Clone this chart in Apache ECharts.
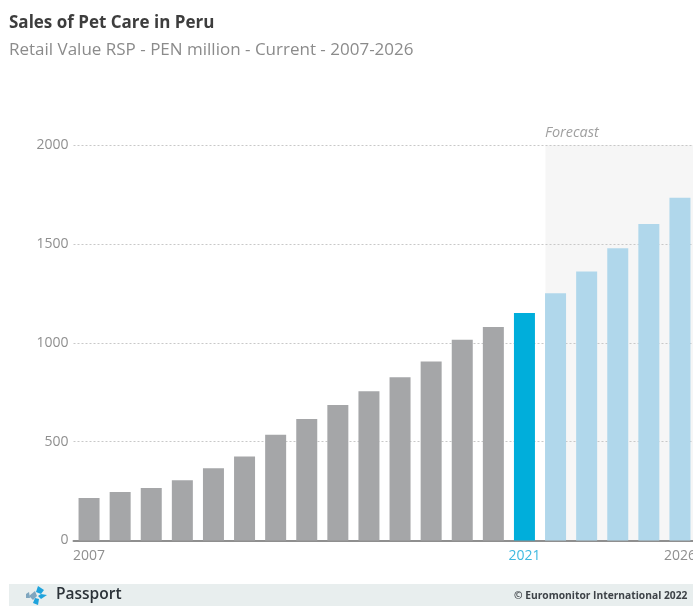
<!DOCTYPE html>
<html><head><meta charset="utf-8">
<style>html,body{margin:0;padding:0;background:#fff;overflow:hidden}#c{width:693px;height:606px}</style>
<script src="https://cdn.jsdelivr.net/npm/echarts@6/dist/echarts.min.js"></script>
</head><body><div id="c"></div>
<script>
const years = ['2007','2008','2009','2010','2011','2012','2013','2014','2015','2016','2017','2018','2019','2020','2021','2022','2023','2024','2025','2026'];
const sales = [215,245,265,305,365,425,535,615,685,755,825,905,1015,1080,1150,1250,1360,1478,1600,1733];
const shownYears = ['2007','2021','2026'];
const currentYear = '2021';
const firstForecast = '2022';
const yTicks = {min:0,max:2000,interval:500};
const chart = echarts.init(document.getElementById('c'),null,{renderer:'canvas'});
const font = '"Open Sans","Noto Sans",sans-serif';
function barColor(y){return y===currentYear?'#00aedb':(y>=firstForecast?'#b0d7eb':'#a5a6a8');}
chart.setOption({
  animation:false,
  title:[
    {text:'Sales of Pet Care in Peru',left:9,top:15,padding:0,textStyle:{fontFamily:font,fontSize:17,fontWeight:700,color:'#3d3d3d'}},
    {text:'Retail Value RSP - PEN million - Current - 2007-2026',left:9,top:42,padding:0,textStyle:{fontFamily:font,fontSize:17,fontWeight:400,color:'#8b8b8b'}}
  ],
  grid:{left:73.5,right:-2.5,top:145,bottom:65.5,containLabel:false,outerBoundsMode:'none'},
  xAxis:{type:'category',data:years,
    axisTick:{show:false},
    axisLine:{show:true,lineStyle:{color:'#8f8f8f',width:2}},
    axisLabel:{interval:(i,v)=>shownYears.includes(v),margin:9,fontFamily:font,fontSize:14,
      color:v=>v===currentYear?'#3fb9e0':'#8f8f8f',hideOverlap:false,showMinLabel:true,showMaxLabel:true}},
  yAxis:{type:'value',min:yTicks.min,max:yTicks.max,interval:yTicks.interval,
    axisLine:{show:false},axisTick:{show:false},
    axisLabel:{margin:5,fontFamily:font,fontSize:14,color:'#8f8f8f',formatter:v=>String(v)},
    splitLine:{show:true,lineStyle:{type:[2,2],color:'#c8c8c8',width:1}}},
  series:[{type:'bar',barWidth:21,z:3,
    data:years.map((y,i)=>({value:sales[i],itemStyle:{color:barColor(y)}})),
    markArea:{silent:true,z:-1,itemStyle:{color:'#f6f6f6'},
      data:[[{x:545.5,y:145},{x:693,y:540}]]}}],
  graphic:[
    {type:'text',left:545,top:125,style:{text:'Forecast',fontFamily:font,fontStyle:'italic',fontSize:14.5,fill:'#a0a0a0'}},
    {type:'rect',shape:{x:9,y:584,width:684,height:22},style:{fill:'#e8eeee'},z:-2},
    {type:'group',x:38,y:595,children:[
      {type:'polygon',shape:{points:[[0,-9],[6,-5],[3,-1],[-2,-3]]},style:{fill:'#1fa3dc'}},
      {type:'polygon',shape:{points:[[3,-1],[9,0],[3,4],[0,1]]},style:{fill:'#1fa3dc'}},
      {type:'polygon',shape:{points:[[-3,-4],[-1,1],[-5,5],[-9,1]]},style:{fill:'#7fa6bf'}},
      {type:'polygon',shape:{points:[[-12,-1],[-9,-3],[-8,3],[-12,3]]},style:{fill:'#7fa6bf'}},
      {type:'polygon',shape:{points:[[-3,3],[1,4],[0,10],[-5,8]]},style:{fill:'#1fa3dc'}}
    ]},
    {type:'text',left:56,top:587,style:{text:'Passport',fontFamily:font,fontSize:15.5,fontWeight:600,fill:'#2b3238'}},
    {type:'text',left:514,top:591,style:{text:'© Euromonitor International 2022',fontFamily:font,fontSize:10.25,fontWeight:700,fill:'#3d4247'}}
  ]
});
</script></body></html>
